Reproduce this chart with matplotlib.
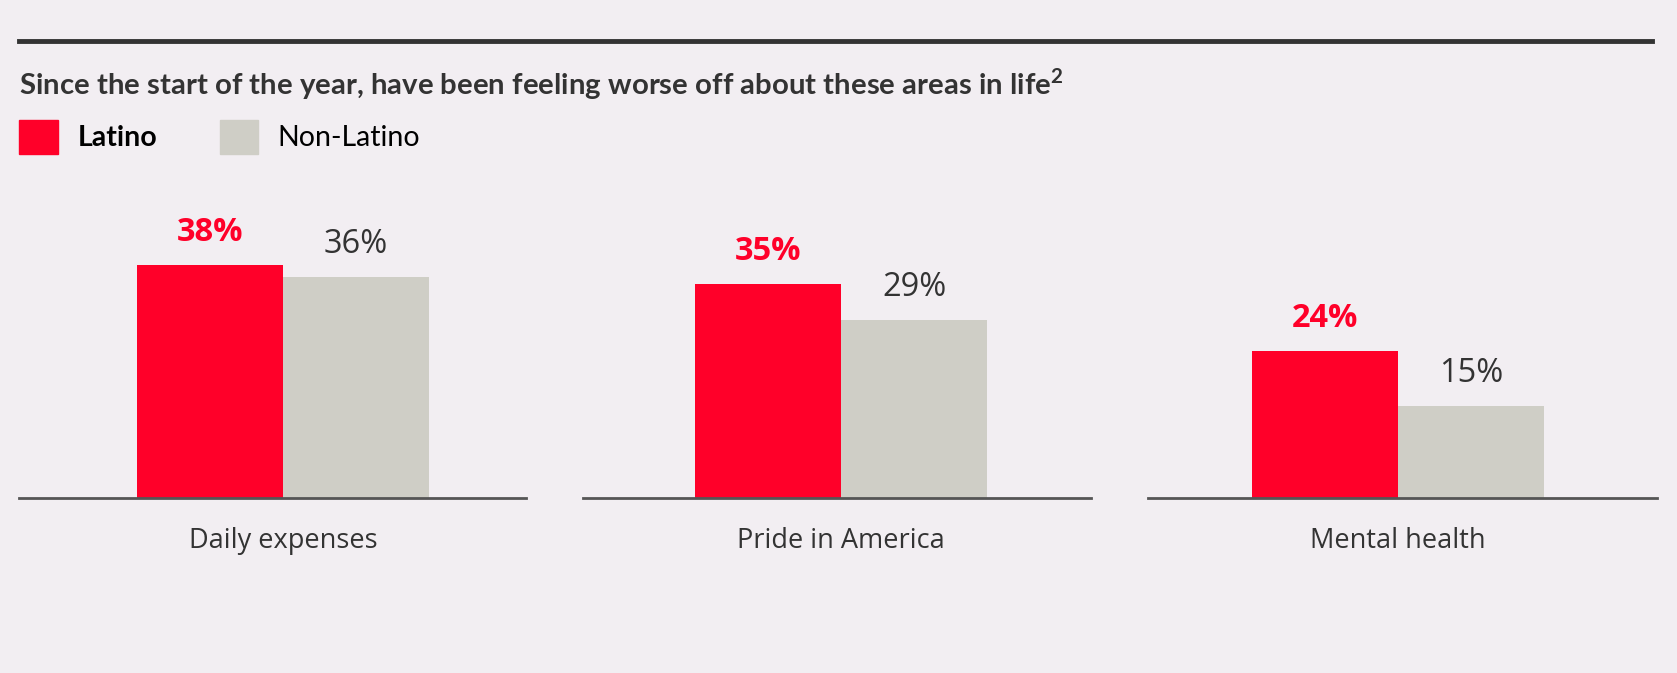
import matplotlib.pyplot as plt
from matplotlib.patches import Rectangle

categories = ["Daily expenses", "Pride in America", "Mental health"]
latino = [38, 35, 24]
non_latino = [36, 29, 15]
series_names = ["Latino", "Non-Latino"]

BG = "#f2eef2"
RED = "#ff0029"
GREY = "#cfcec6"
TXT = "#333333"

plt.rcParams["mathtext.fontset"] = "custom"
plt.rcParams["mathtext.bf"] = "Lato:bold"
plt.rcParams["mathtext.rm"] = "Lato:bold"

W, H = 1677, 673
fig = plt.figure(figsize=(W / 100, H / 100), dpi=100, facecolor=BG)

def px_box(x0, y0, x1, y1):
    # pixel coords (top-left origin) -> figure fraction [left, bottom, width, height]
    return [x0 / W, 1 - y1 / H, (x1 - x0) / W, (y1 - y0) / H]

# top rule
fig.add_artist(plt.Line2D([19 / W, 1652 / W], [1 - 41 / H, 1 - 41 / H], color="#333333", lw=3.5))

fig.text(19 / W, 1 - 95 / H, r"Since the start of the year, have been feeling worse off about these areas in life$^{\mathbf{2}}$",
         fontsize=21.2, fontweight="bold", color=TXT, family="Lato", va="baseline")

# legend
fig.add_artist(Rectangle((19 / W, 1 - 154 / H), 39 / W, 34 / H, transform=fig.transFigure, color=RED))
fig.text(78 / W, 1 - 138 / H, series_names[0], fontsize=20.5, fontweight="bold", color="black",
         family="Lato", va="center")
fig.add_artist(Rectangle((220 / W, 1 - 154 / H), 38 / W, 34 / H, transform=fig.transFigure, color=GREY))
fig.text(277 / W, 1 - 138 / H, series_names[1], fontsize=20.5, color="black", family="Lato", va="center")

# panel baselines (px) and centre of each bar pair (px)
panels = [(19, 526), (583, 1091), (1148, 1657)]
centres = [283, 841, 1398]
bar_px = 146
for i, (x0, x1) in enumerate(panels):
    ax = fig.add_axes(px_box(x0, 180, x1, 498))
    ax.set_facecolor(BG)
    ax.set_xlim((x0 - centres[i]) / bar_px, (x1 - centres[i]) / bar_px)
    ax.set_ylim(0, 51.9)
    ax.bar(-0.5, latino[i], width=1, color=RED, clip_on=False)
    ax.bar(0.5, non_latino[i], width=1, color=GREY, clip_on=False)
    ax.axhline(0, color="#555555", lw=2, clip_on=False)
    ax.text(-0.5, latino[i] + 5.3, f"{latino[i]}%", ha="center", va="center", fontsize=23.5,
            fontweight="bold", color=RED, family="Open Sans")
    ax.text(0.5, non_latino[i] + 5.3, f"{non_latino[i]}%", ha="center", va="center", fontsize=23.5,
            color=TXT, family="Open Sans")
    ax.text(0, -7.0, categories[i], ha="center", va="center", fontsize=19.5, color=TXT,
            family="Open Sans")
    for s in ax.spines.values():
        s.set_visible(False)
    ax.set_xticks([])
    ax.set_yticks([])

fig.savefig("out.png", dpi=100, facecolor=BG)
